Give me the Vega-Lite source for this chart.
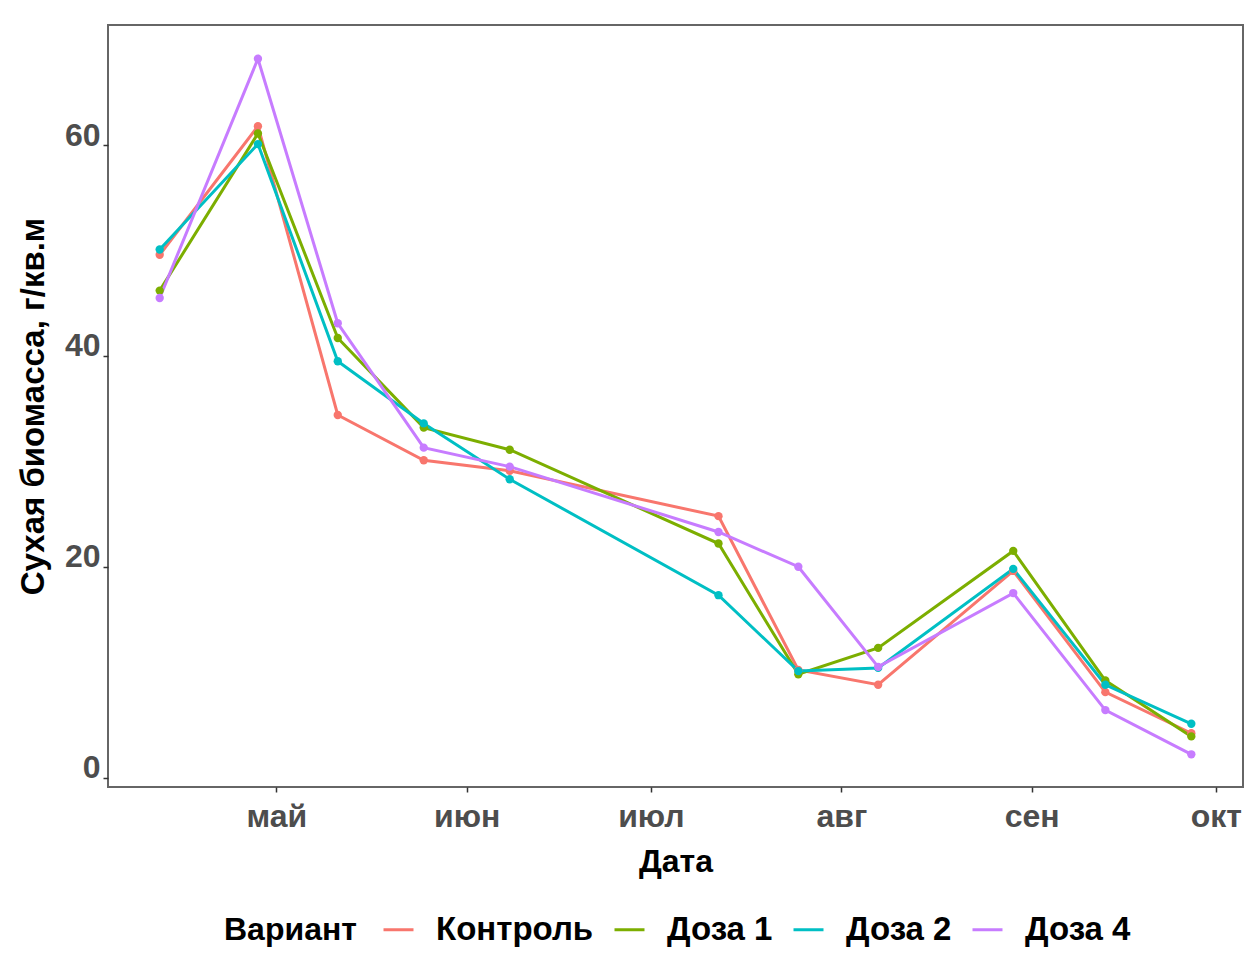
{
  "$schema": "https://vega.github.io/schema/vega-lite/v6.json",
  "autosize": {"type": "none"},
  "padding": {"left": 108, "top": 25, "right": 3, "bottom": 180},
  "width": 1135,
  "height": 762,
  "background": "white",
  "config": {
    "font": "Liberation Sans",
    "view": {"stroke": "#666666", "strokeWidth": 2},
    "axis": {"grid": false, "domain": false}
  },
  "data": {"values": [
    {"date": "2021-04-12", "variant": "Контроль", "value": 49.6},
    {"date": "2021-04-28", "variant": "Контроль", "value": 61.8},
    {"date": "2021-05-11", "variant": "Контроль", "value": 34.4},
    {"date": "2021-05-25", "variant": "Контроль", "value": 30.1},
    {"date": "2021-06-08", "variant": "Контроль", "value": 29.1},
    {"date": "2021-07-12", "variant": "Контроль", "value": 24.8},
    {"date": "2021-07-25", "variant": "Контроль", "value": 10.2},
    {"date": "2021-08-07", "variant": "Контроль", "value": 8.8},
    {"date": "2021-08-29", "variant": "Контроль", "value": 19.6},
    {"date": "2021-09-13", "variant": "Контроль", "value": 8.1},
    {"date": "2021-09-27", "variant": "Контроль", "value": 4.2},
    {"date": "2021-04-12", "variant": "Доза 1", "value": 46.2},
    {"date": "2021-04-28", "variant": "Доза 1", "value": 61.1},
    {"date": "2021-05-11", "variant": "Доза 1", "value": 41.7},
    {"date": "2021-05-25", "variant": "Доза 1", "value": 33.2},
    {"date": "2021-06-08", "variant": "Доза 1", "value": 31.1},
    {"date": "2021-07-12", "variant": "Доза 1", "value": 22.2},
    {"date": "2021-07-25", "variant": "Доза 1", "value": 9.8},
    {"date": "2021-08-07", "variant": "Доза 1", "value": 12.3},
    {"date": "2021-08-29", "variant": "Доза 1", "value": 21.5},
    {"date": "2021-09-13", "variant": "Доза 1", "value": 9.2},
    {"date": "2021-09-27", "variant": "Доза 1", "value": 3.9},
    {"date": "2021-04-12", "variant": "Доза 2", "value": 50.1},
    {"date": "2021-04-28", "variant": "Доза 2", "value": 60.1},
    {"date": "2021-05-11", "variant": "Доза 2", "value": 39.5},
    {"date": "2021-05-25", "variant": "Доза 2", "value": 33.6},
    {"date": "2021-06-08", "variant": "Доза 2", "value": 28.3},
    {"date": "2021-07-12", "variant": "Доза 2", "value": 17.3},
    {"date": "2021-07-25", "variant": "Доза 2", "value": 10.1},
    {"date": "2021-08-07", "variant": "Доза 2", "value": 10.4},
    {"date": "2021-08-29", "variant": "Доза 2", "value": 19.8},
    {"date": "2021-09-13", "variant": "Доза 2", "value": 8.8},
    {"date": "2021-09-27", "variant": "Доза 2", "value": 5.1},
    {"date": "2021-04-12", "variant": "Доза 4", "value": 45.5},
    {"date": "2021-04-28", "variant": "Доза 4", "value": 68.2},
    {"date": "2021-05-11", "variant": "Доза 4", "value": 43.1},
    {"date": "2021-05-25", "variant": "Доза 4", "value": 31.3},
    {"date": "2021-06-08", "variant": "Доза 4", "value": 29.5},
    {"date": "2021-07-12", "variant": "Доза 4", "value": 23.3},
    {"date": "2021-07-25", "variant": "Доза 4", "value": 20.0},
    {"date": "2021-08-07", "variant": "Доза 4", "value": 10.5},
    {"date": "2021-08-29", "variant": "Доза 4", "value": 17.5},
    {"date": "2021-09-13", "variant": "Доза 4", "value": 6.4},
    {"date": "2021-09-27", "variant": "Доза 4", "value": 2.2}
  ]},
  "encoding": {
    "x": {
      "field": "date", "type": "temporal",
      "scale": {"type": "utc", "domain": [
        {"year": 2021, "month": 4, "date": 3, "hours": 14, "utc": true},
        {"year": 2021, "month": 10, "date": 5, "hours": 10, "utc": true}
      ]},
      "axis": {
        "title": "Дата",
        "values": [
          {"year": 2021, "month": 5, "date": 1, "utc": true},
          {"year": 2021, "month": 6, "date": 1, "utc": true},
          {"year": 2021, "month": 7, "date": 1, "utc": true},
          {"year": 2021, "month": 8, "date": 1, "utc": true},
          {"year": 2021, "month": 9, "date": 1, "utc": true},
          {"year": 2021, "month": 10, "date": 1, "utc": true}
        ],
        "labelExpr": "['янв','фев','мар','апр','май','июн','июл','авг','сен','окт','ноя','дек'][utcmonth(datum.value)]",
        "tickColor": "#333333", "tickSize": 5, "tickWidth": 1.5,
        "labelFont": "Liberation Sans", "labelFontSize": 32, "labelFontWeight": "bold", "labelColor": "#4D4D4D",
        "labelPadding": 9, "labelFlush": false, "labelOverlap": false,
        "titleFont": "Liberation Sans", "titleFontSize": 32, "titleFontWeight": "bold", "titleColor": "#000000",
        "titlePadding": 14
      }
    },
    "y": {
      "field": "value", "type": "quantitative",
      "scale": {"domain": [-0.9, 71.4], "nice": false, "zero": false},
      "axis": {
        "title": "Сухая биомасса, г/кв.м",
        "values": [0, 20, 40, 60],
        "tickColor": "#333333", "tickSize": 5, "tickWidth": 1.5,
        "labelFont": "Liberation Sans", "labelFontSize": 32, "labelFontWeight": "bold", "labelColor": "#4D4D4D",
        "labelPadding": 3, "labelBaseline": "alphabetic",
        "titleFont": "Liberation Sans", "titleFontSize": 33, "titleFontWeight": "bold", "titleColor": "#000000",
        "titlePadding": 14
      }
    },
    "color": {
      "field": "variant", "type": "nominal",
      "scale": {"domain": ["Контроль", "Доза 1", "Доза 2", "Доза 4"], "range": ["#F8766D", "#7CAE00", "#00BFC4", "#C77CFF"]},
      "legend": {
        "title": "Вариант", "orient": "none", "legendX": 116, "legendY": 888,
        "direction": "horizontal", "titleOrient": "left",
        "symbolType": "stroke", "symbolStrokeWidth": 3, "symbolSize": 900,
        "labelFont": "Liberation Sans", "labelFontSize": 33, "labelFontWeight": "bold", "labelColor": "#000000",
        "titleFont": "Liberation Sans", "titleFontSize": 32, "titleFontWeight": "bold", "titleColor": "#000000",
        "titlePadding": 25, "labelOffset": 21, "columnPadding": 14
      }
    }
  },
  "layer": [
    {"mark": {"type": "line", "strokeWidth": 3}},
    {"mark": {"type": "point", "filled": true, "size": 70, "opacity": 1}}
  ]
}
